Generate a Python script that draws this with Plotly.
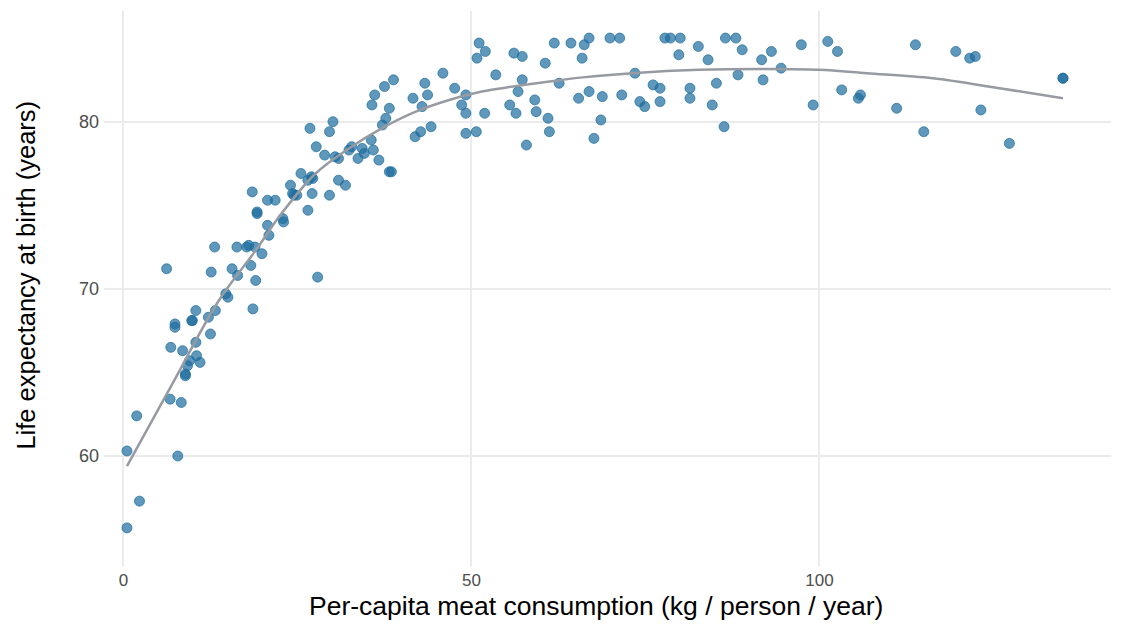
import plotly.graph_objects as go

# Per-capita meat consumption (kg/person/year) and life expectancy (years)
meat = [0.5, 0.5, 2.3, 1.9, 6.2, 6.7, 6.8, 7.8, 7.4, 7.4, 8.3, 8.5, 9.2, 8.9, 8.9,
        9.8, 9.9, 9.5, 10.4, 10.4, 10.5, 11.0, 12.2, 12.5, 12.6, 13.1, 13.2, 14.7,
        15.0, 15.6, 16.3, 16.4, 17.7, 18.0, 18.3, 18.5, 18.6, 18.9, 19.0, 19.2, 19.2,
        19.9, 20.7, 20.9, 20.7, 21.8, 22.9, 23.0, 24.0, 24.3, 24.5, 24.9, 25.5, 26.5,
        27.0, 27.2, 26.5, 27.1, 26.8, 27.7, 27.9, 28.9, 29.6, 30.1, 29.6, 30.4, 30.9,
        30.9, 31.9, 32.4, 32.8, 33.7, 34.3, 34.6, 35.6, 35.9, 36.7, 35.7, 36.1, 37.2,
        37.7, 37.5, 38.2, 38.8, 38.2, 38.5, 41.6, 41.9, 42.7, 42.9, 43.3, 43.7, 44.2,
        45.9, 47.6, 48.6, 49.2, 49.2, 49.2, 50.7, 50.8, 51.1, 52.0, 51.9, 53.5, 55.5,
        56.1, 56.7, 56.4, 57.3, 57.3, 57.9, 59.1, 59.3, 60.6, 61.0, 61.2, 61.9, 62.6,
        64.3, 65.4, 65.9, 66.2, 66.9, 66.9, 67.6, 68.6, 68.8, 69.9, 71.3, 71.6, 73.5,
        74.2, 74.9, 76.1, 77.1, 77.1, 77.8, 78.6, 79.8, 80.0, 81.4, 81.4, 82.6, 84.0,
        84.6, 85.2, 86.3, 86.5, 88.0, 88.3, 88.9, 91.7, 91.9, 93.1, 94.5, 97.4, 99.1,
        101.2, 102.6, 103.2, 105.6, 105.9, 111.1, 113.8, 115.0, 119.6, 121.6, 122.4,
        123.2, 127.3, 135.0, 135.0]
life = [55.7, 60.3, 57.3, 62.4, 71.2, 63.4, 66.5, 60.0, 67.9, 67.7, 63.2, 66.3, 65.4, 64.9, 64.8,
        68.1, 68.1, 65.7, 68.7, 66.8, 66.0, 65.6, 68.3, 67.3, 71.0, 72.5, 68.7, 69.7,
        69.5, 71.2, 72.5, 70.8, 72.5, 72.6, 71.4, 75.8, 68.8, 72.5, 70.5, 74.6, 74.5,
        72.1, 73.8, 73.2, 75.3, 75.3, 74.2, 74.0, 76.2, 75.7, 75.6, 75.6, 76.9, 76.5,
        76.7, 76.6, 74.7, 75.7, 79.6, 78.5, 70.7, 78.0, 79.4, 80.0, 75.6, 77.9, 77.8,
        76.5, 76.2, 78.3, 78.5, 77.8, 78.4, 78.1, 78.9, 78.3, 77.7, 81.0, 81.6, 79.8,
        80.2, 82.1, 80.8, 82.5, 77.0, 77.0, 81.4, 79.1, 79.4, 80.9, 82.3, 81.6, 79.7,
        82.9, 82.0, 81.0, 81.6, 80.5, 79.3, 79.4, 83.8, 84.7, 84.2, 80.5, 82.8, 81.0,
        84.1, 81.8, 80.5, 83.9, 82.5, 78.6, 81.3, 80.6, 83.5, 80.2, 79.4, 84.7, 82.3,
        84.7, 81.4, 83.8, 84.6, 85.0, 81.8, 79.0, 80.1, 81.5, 85.0, 85.0, 81.6, 82.9,
        81.2, 80.9, 82.2, 82.0, 81.2, 85.0, 85.0, 84.0, 85.0, 82.0, 81.4, 84.5, 83.7,
        81.0, 82.3, 79.7, 85.0, 85.0, 82.8, 84.3, 83.7, 82.5, 84.2, 83.2, 84.6, 81.0,
        84.8, 84.2, 81.9, 81.4, 81.6, 80.8, 84.6, 79.4, 84.2, 83.8, 83.9,
        80.7, 78.7, 82.6, 82.6]

# Smoothed trend
smooth_x = [0.5, 7.0, 13.7, 19.0, 22.7, 27.6, 32.4, 37.1, 42.0, 46.8, 51.5, 56.0,
            61.2, 66.0, 73.1, 82.7, 92.4, 100.0, 106.8, 116.3, 125.9, 135.0]
smooth_y = [59.4, 64.3, 69.3, 72.3, 74.5, 76.9, 78.4, 79.6, 80.6, 81.3, 81.8, 82.1,
            82.4, 82.65, 82.9, 83.1, 83.15, 83.1, 82.9, 82.6, 82.0, 81.4]

x_ticks = [0, 50, 100]
y_ticks = [60, 70, 80]

FONT = "Liberation Sans, Arial, sans-serif"

fig = go.Figure()
fig.add_trace(go.Scatter(
    x=meat, y=life, mode="markers",
    marker=dict(size=10, color="rgba(28,108,158,0.7)",
                line=dict(color="rgba(28,108,158,0.7)", width=1)),
    hoverinfo="x+y", showlegend=False))
fig.add_trace(go.Scatter(
    x=smooth_x, y=smooth_y, mode="lines",
    line=dict(color="#979ba1", width=2.5, shape="spline", smoothing=1.0),
    hoverinfo="skip", showlegend=False))

fig.update_layout(
    width=1125, height=630,
    margin=dict(l=104, r=14, t=11, b=64),
    paper_bgcolor="white", plot_bgcolor="white",
    font=dict(family=FONT),
    xaxis=dict(range=[-2.8, 141.9], tickvals=x_ticks, ticktext=[str(v) for v in x_ticks],
               showgrid=True, gridcolor="#ebebeb", gridwidth=2, zeroline=False,
               showline=False, ticks="", ticklabelstandoff=2,
               tickfont=dict(family=FONT, size=17, color="#4d4d4d")),
    yaxis=dict(range=[53.42, 86.62], tickvals=y_ticks, ticktext=[str(v) for v in y_ticks],
               showgrid=True, gridcolor="#ebebeb", gridwidth=2, zeroline=False,
               showline=False, ticks="", ticklabelstandoff=4,
               tickfont=dict(family=FONT, size=18, color="#4d4d4d")),
    annotations=[
        dict(text="Per-capita meat consumption (kg / person / year)",
             xref="paper", yref="paper", x=0.4886, y=-0.072,
             xanchor="center", yanchor="middle", showarrow=False,
             font=dict(family=FONT, size=26.5, color="black")),
        dict(text="Life expectancy at birth (years)",
             xref="paper", yref="paper", x=-0.0775, y=0.525,
             xanchor="center", yanchor="middle", textangle=-90, showarrow=False,
             font=dict(family=FONT, size=25.5, color="black")),
    ],
)

fig.write_html("out.html")
